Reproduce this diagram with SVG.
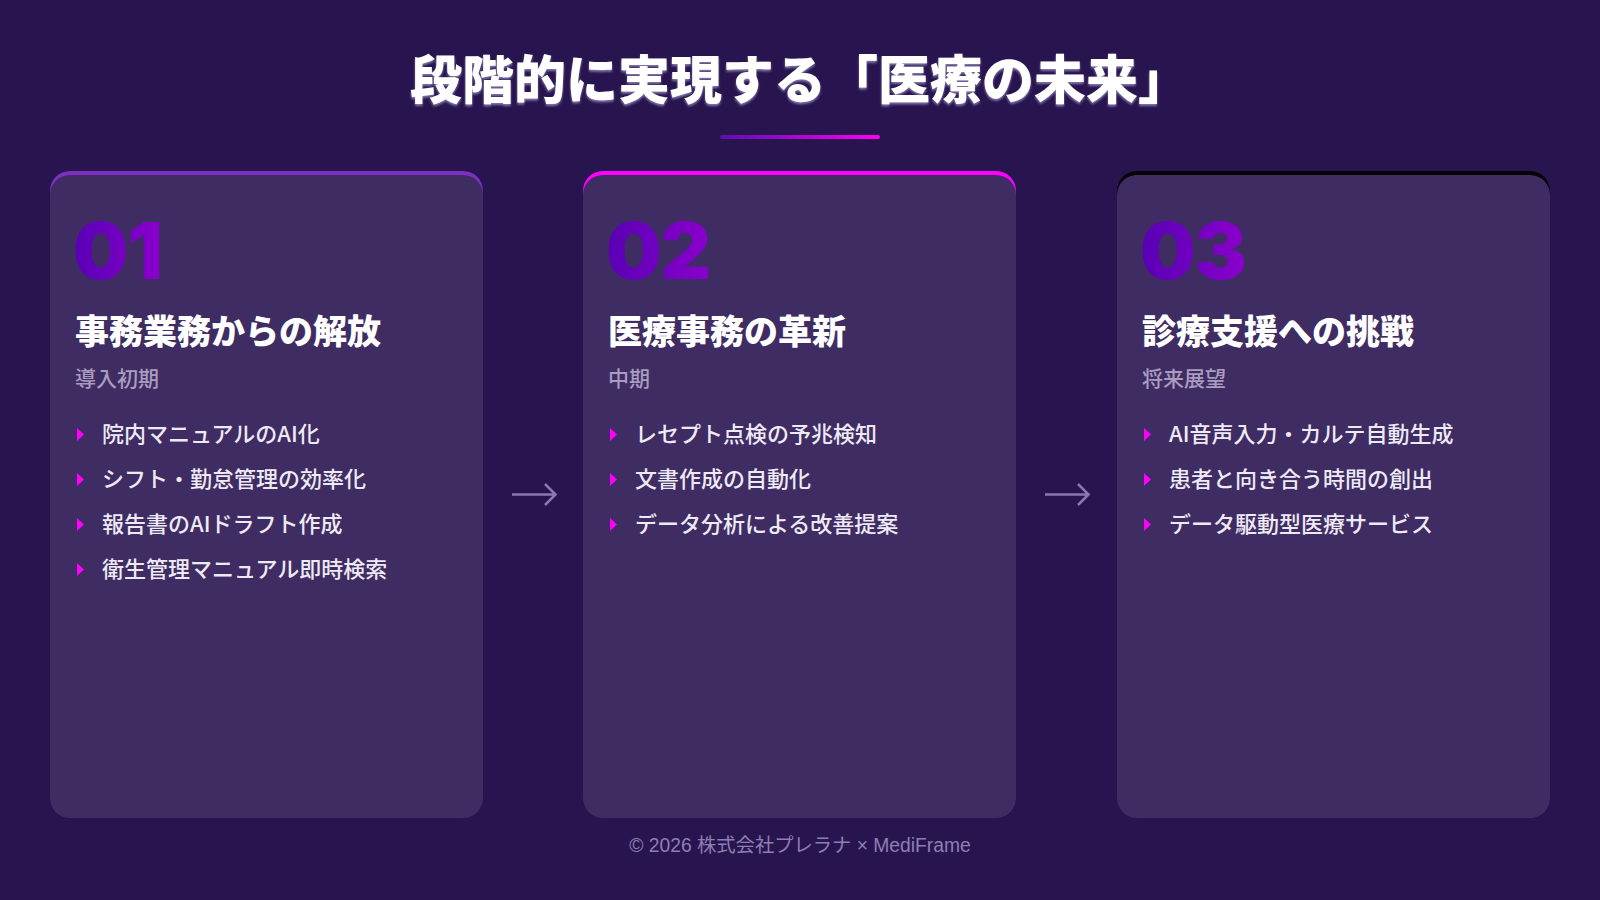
<svg xmlns="http://www.w3.org/2000/svg" width="1600" height="900" viewBox="0 0 1600 900">
<defs>
<linearGradient id="bar" x1="0" y1="0" x2="1" y2="0"><stop offset="0" stop-color="#5a0fb0"/><stop offset="1" stop-color="#ff00f0"/></linearGradient>
<linearGradient id="num" x1="0" y1="0" x2="1" y2="0"><stop offset="0" stop-color="#5800b4"/><stop offset="1" stop-color="#8a00cc"/></linearGradient>
<filter id="sh" x="-5%" y="-20%" width="110%" height="150%"><feDropShadow dx="0" dy="2" stdDeviation="1" flood-color="#9a8cc0" flood-opacity="0.8"/></filter>
<path id="tri" d="M0 -6.5 L7 0 L0 6.5 Z"/>
</defs>
<style>
.h{font-family:"Noto Sans CJK JP",sans-serif;font-weight:900;fill:#ffffff}
.card{fill:#3e2c62}
.num{font-family:Inter,"Liberation Sans",sans-serif;font-weight:900;font-size:78px;letter-spacing:-1px;fill:url(#num)}
.t{font-family:"Noto Sans CJK JP",sans-serif;font-weight:900;font-size:34px;fill:#ffffff}
.s{font-family:"Noto Sans CJK JP",sans-serif;font-weight:500;font-size:21px;fill:#a99cc0}
.b{font-family:"Noto Sans CJK JP",sans-serif;font-weight:500;font-size:22px;fill:#eeeaf5}
.tri{fill:#ff00ff}
.arr{stroke:#8a78b0;stroke-width:2.5;fill:none}
</style>
<rect width="1600" height="900" fill="#281550"/>
<g id="header">
<text x="800" y="99" text-anchor="middle" class="h" font-size="52" filter="url(#sh)">段階的に実現する「医療の未来」</text>
<rect x="720" y="135" width="160" height="4" rx="2" fill="url(#bar)"/>
</g>
<g id="card1">
<rect x="50" y="171" width="433" height="60" rx="20" fill="#7b2fc4"/>
<rect class="card" x="50" y="175" width="433" height="643" rx="20"/>
<text class="num" x="73" y="279">01</text>
<text class="t" x="75" y="344">事務業務からの解放</text>
<text class="s" x="75" y="386">導入初期</text>
<use href="#tri" class="tri" x="77" y="434.5"/>
<text class="b" x="102" y="442">院内マニュアルのAI化</text>
<use href="#tri" class="tri" x="77" y="479.5"/>
<text class="b" x="102" y="487">シフト・勤怠管理の効率化</text>
<use href="#tri" class="tri" x="77" y="524.5"/>
<text class="b" x="102" y="532">報告書のAIドラフト作成</text>
<use href="#tri" class="tri" x="77" y="569.5"/>
<text class="b" x="102" y="577">衛生管理マニュアル即時検索</text>
</g>
<g id="card2">
<rect x="583" y="171" width="433" height="60" rx="20" fill="#ff00ff"/>
<rect class="card" x="583" y="175" width="433" height="643" rx="20"/>
<text class="num" x="606" y="279">02</text>
<text class="t" x="608" y="344">医療事務の革新</text>
<text class="s" x="608" y="386">中期</text>
<use href="#tri" class="tri" x="610" y="434.5"/>
<text class="b" x="635" y="442">レセプト点検の予兆検知</text>
<use href="#tri" class="tri" x="610" y="479.5"/>
<text class="b" x="635" y="487">文書作成の自動化</text>
<use href="#tri" class="tri" x="610" y="524.5"/>
<text class="b" x="635" y="532">データ分析による改善提案</text>
</g>
<g id="card3">
<rect x="1117" y="171" width="433" height="60" rx="20" fill="#050208"/>
<rect class="card" x="1117" y="175" width="433" height="643" rx="20"/>
<text class="num" x="1140" y="279">03</text>
<text class="t" x="1142" y="344">診療支援への挑戦</text>
<text class="s" x="1142" y="386">将来展望</text>
<use href="#tri" class="tri" x="1144" y="434.5"/>
<text class="b" x="1169" y="442">AI音声入力・カルテ自動生成</text>
<use href="#tri" class="tri" x="1144" y="479.5"/>
<text class="b" x="1169" y="487">患者と向き合う時間の創出</text>
<use href="#tri" class="tri" x="1144" y="524.5"/>
<text class="b" x="1169" y="532">データ駆動型医療サービス</text>
</g>
<g id="connectors">
<path class="arr" d="M512 494.5 H555 M545 484 L555.5 494.5 L545 505"/>
<path class="arr" d="M1045 494.5 H1088 M1078 484 L1088.5 494.5 L1078 505"/>
</g>
<text x="800" y="852" text-anchor="middle" font-family="'Liberation Sans','Noto Sans CJK JP',sans-serif" font-size="19.3" fill="#8d7fb0">© 2026 株式会社プレラナ × MediFrame</text>
</svg>
